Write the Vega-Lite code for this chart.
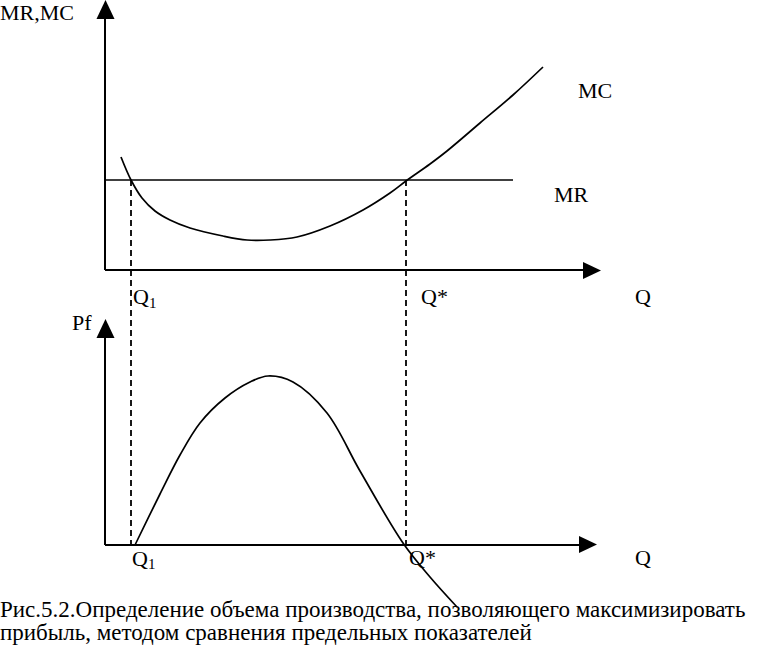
{
  "$schema": "https://vega.github.io/schema/vega-lite/v6.json",
  "width": 768,
  "height": 651,
  "padding": 0,
  "autosize": {"type": "fit", "contains": "padding"},
  "background": "white",
  "config": {"view": {"stroke": null}, "axis": {"disable": true}},
  "datasets": {
    "curves": [
      {"id": "MC", "x": 121, "y": 157}, {"id": "MC", "x": 131, "y": 180}, {"id": "MC", "x": 142, "y": 198},
      {"id": "MC", "x": 155, "y": 211}, {"id": "MC", "x": 170, "y": 220}, {"id": "MC", "x": 190, "y": 228},
      {"id": "MC", "x": 223, "y": 236}, {"id": "MC", "x": 247, "y": 240}, {"id": "MC", "x": 270, "y": 240},
      {"id": "MC", "x": 297, "y": 237}, {"id": "MC", "x": 330, "y": 226}, {"id": "MC", "x": 363, "y": 210},
      {"id": "MC", "x": 390, "y": 193}, {"id": "MC", "x": 406, "y": 181}, {"id": "MC", "x": 430, "y": 164},
      {"id": "MC", "x": 447, "y": 151}, {"id": "MC", "x": 480, "y": 123}, {"id": "MC", "x": 513, "y": 95},
      {"id": "MC", "x": 543, "y": 67},
      {"id": "MR", "x": 105, "y": 180}, {"id": "MR", "x": 513, "y": 180},
      {"id": "Pf", "x": 135, "y": 545}, {"id": "Pf", "x": 160, "y": 494}, {"id": "Pf", "x": 180, "y": 455},
      {"id": "Pf", "x": 200, "y": 423}, {"id": "Pf", "x": 225, "y": 398}, {"id": "Pf", "x": 250, "y": 382},
      {"id": "Pf", "x": 268, "y": 376}, {"id": "Pf", "x": 293, "y": 382}, {"id": "Pf", "x": 327, "y": 413},
      {"id": "Pf", "x": 360, "y": 471}, {"id": "Pf", "x": 403, "y": 543}, {"id": "Pf", "x": 430, "y": 577},
      {"id": "Pf", "x": 457, "y": 607}
    ],
    "axes": [
      {"x": 105, "y": 270, "x2": 105, "y2": 16},
      {"x": 105, "y": 270, "x2": 586, "y2": 270},
      {"x": 105, "y": 545, "x2": 105, "y2": 334},
      {"x": 105, "y": 545, "x2": 582, "y2": 545}
    ],
    "dashes": [
      {"x": 131, "y": 180, "x2": 131, "y2": 545},
      {"x": 406, "y": 180, "x2": 406, "y2": 545}
    ],
    "upArrows": [{"x": 105.5, "y": 9.5}, {"x": 105.5, "y": 328.5}],
    "rightArrows": [{"x": 592, "y": 270.5}, {"x": 588, "y": 544.5}],
    "labels": [
      {"x": 0, "y": 20, "text": "MR,MC"},
      {"x": 578, "y": 98, "text": "MC"},
      {"x": 554, "y": 202, "text": "MR"},
      {"x": 133, "y": 304, "text": "Q"},
      {"x": 421, "y": 304, "text": "Q*"},
      {"x": 635, "y": 304, "text": "Q"},
      {"x": 72, "y": 330, "text": "Pf"},
      {"x": 132, "y": 566, "text": "Q"},
      {"x": 409, "y": 565, "text": "Q*"},
      {"x": 635, "y": 565, "text": "Q"}
    ],
    "subs": [
      {"x": 149, "y": 308, "text": "1"},
      {"x": 148, "y": 569, "text": "1"}
    ],
    "caption": [
      {"x": 0, "y": 617, "text": "Рис.5.2.Определение объема производства, позволяющего максимизировать"},
      {"x": 0, "y": 640, "text": "прибыль, методом сравнения предельных показателей"}
    ]
  },
  "encoding": {
    "x": {"field": "x", "type": "quantitative", "scale": {"domain": [0, 768], "nice": false, "zero": false}, "axis": null},
    "y": {"field": "y", "type": "quantitative", "scale": {"domain": [0, 651], "nice": false, "zero": false, "reverse": true}, "axis": null}
  },
  "layer": [
    {
      "data": {"name": "axes"},
      "mark": {"type": "rule", "stroke": "black", "strokeWidth": 2},
      "encoding": {"x2": {"field": "x2"}, "y2": {"field": "y2"}}
    },
    {
      "data": {"name": "dashes"},
      "mark": {"type": "rule", "stroke": "black", "strokeWidth": 1.8, "strokeDash": [6, 4]},
      "encoding": {"x2": {"field": "x2"}, "y2": {"field": "y2"}}
    },
    {
      "data": {"name": "curves"},
      "mark": {"type": "line", "stroke": "black", "strokeWidth": 1.7, "interpolate": "catmull-rom"},
      "encoding": {"detail": {"field": "id"}}
    },
    {
      "data": {"name": "upArrows"},
      "mark": {"type": "point", "shape": "M0,-1L0.95,1L-0.95,1Z", "size": 361, "filled": true, "fill": "black", "stroke": null, "opacity": 1}
    },
    {
      "data": {"name": "rightArrows"},
      "mark": {"type": "point", "shape": "M1,0L-1,0.95L-1,-0.95Z", "size": 324, "filled": true, "fill": "black", "stroke": null, "opacity": 1}
    },
    {
      "data": {"name": "labels"},
      "mark": {"type": "text", "font": "Liberation Serif", "fontSize": 22, "align": "left", "baseline": "alphabetic", "fill": "black"},
      "encoding": {"text": {"field": "text"}}
    },
    {
      "data": {"name": "subs"},
      "mark": {"type": "text", "font": "Liberation Serif", "fontSize": 15, "align": "left", "baseline": "alphabetic", "fill": "black"},
      "encoding": {"text": {"field": "text"}}
    },
    {
      "data": {"name": "caption"},
      "mark": {"type": "text", "font": "Liberation Serif", "fontSize": 23, "align": "left", "baseline": "alphabetic", "fill": "black"},
      "encoding": {"text": {"field": "text"}}
    }
  ]
}
